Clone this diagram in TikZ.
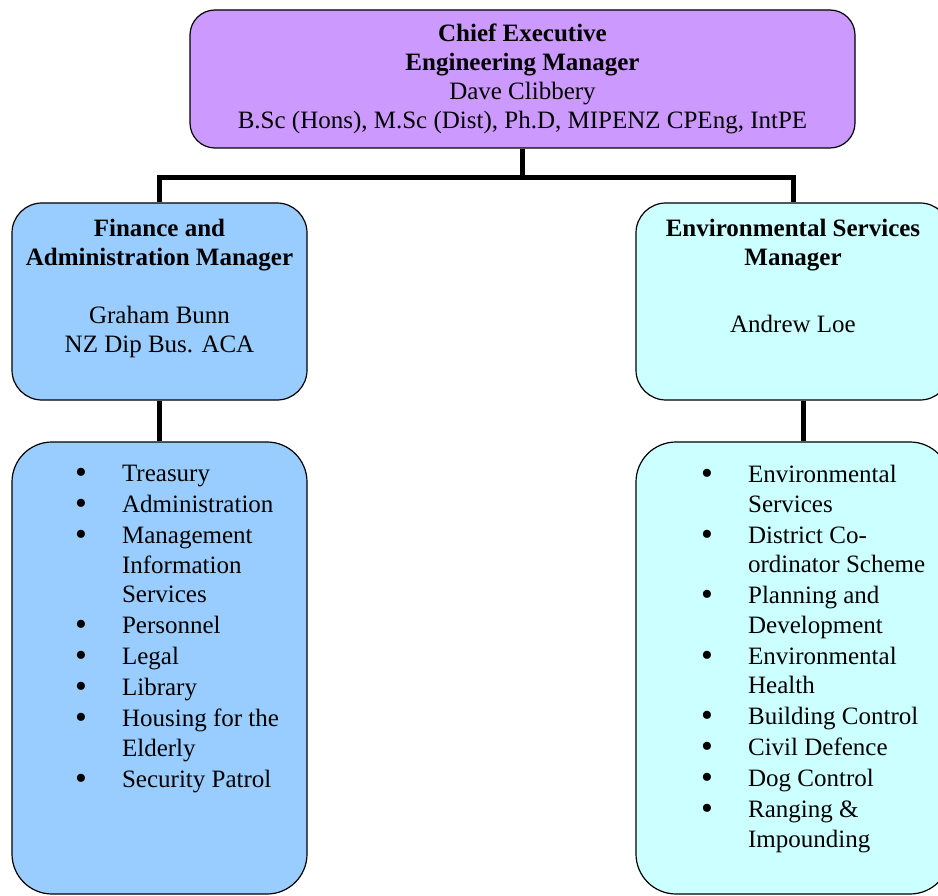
\documentclass[tikz,border=0pt]{standalone}
\usepackage{fontspec}
\setmainfont{Liberation Serif}
\usepackage{xcolor}
\usepackage{graphicx}
\usetikzlibrary{positioning}

\definecolor{chiefpurple}{HTML}{CC99FF}
\definecolor{finblue}{HTML}{99CCFF}
\definecolor{envcyan}{HTML}{CCFFFF}

\newcommand{\orgbullet}[1]{\makebox[47pt][l]{\smash{\raisebox{-2pt}{\scalebox{1.35}{\textbullet}}}}#1}
\newcommand{\orgcont}[1]{\hspace*{47pt}#1}

\tikzset{
  orgbox/.style={draw=black, line width=1.2pt, inner sep=0pt},
  link/.style={line width=5pt},
  boxtext/.style={align=center, inner sep=0pt, font=\fontsize{25}{29}\selectfont},
  listtext/.style={align=left, inner sep=0pt, font=\fontsize{25}{29.5}\selectfont},
}

\begin{document}
\begin{tikzpicture}[x=1pt, y=-1pt]
    \useasboundingbox (0,0) rectangle (938,896);

    % Chief executive
    \node[orgbox, fill=chiefpurple, rounded corners=25pt,
          minimum width=665pt, minimum height=138pt] (chief) at (522.5,79) {};
    \node[boxtext, below=14.5pt of chief.north] (chieftxt)
        {\textbf{Chief Executive}\\\textbf{Engineering Manager}\\Dave Clibbery\\
         B.Sc (Hons), M.Sc (Dist), Ph.D, MIPENZ CPEng, IntPE};

    % Managers
    \node[orgbox, fill=finblue, rounded corners=30pt,
          minimum width=295pt, minimum height=197pt] (finmgr) at (159.5,301.5) {};
    \node[boxtext, below=17pt of finmgr.north] (finmgrtxt)
        {\textbf{Finance and}\\\textbf{Administration Manager}\\[29pt]
         Graham Bunn\\NZ Dip Bus. ACA};

    \node[orgbox, fill=envcyan, rounded corners=30pt,
          minimum width=314pt, minimum height=197pt] (envmgr) at (793,301.5) {};
    \node[boxtext, below=17pt of envmgr.north] (envmgrtxt)
        {\textbf{Environmental Services}\\\textbf{Manager}\\[38pt]Andrew Loe};

    % Function lists
    \node[orgbox, fill=finblue, rounded corners=40pt,
          minimum width=295pt, minimum height=452pt] (finlist) at (159.5,668) {};
    \node[listtext, anchor=north west] (finitems)
        at ([xshift=63.5pt, yshift=-24pt]finlist.north west)
        {\orgbullet{Treasury}\\[1.5pt]
         \orgbullet{Administration}\\[1.5pt]
         \orgbullet{Management}\\\orgcont{Information}\\\orgcont{Services}\\[1.5pt]
         \orgbullet{Personnel}\\[1.5pt]
         \orgbullet{Legal}\\[1.5pt]
         \orgbullet{Library}\\[1.5pt]
         \orgbullet{Housing for the}\\\orgcont{Elderly}\\[1.5pt]
         \orgbullet{Security Patrol}};

    \node[orgbox, fill=envcyan, rounded corners=40pt,
          minimum width=314pt, minimum height=452pt] (envlist) at (793,668) {};
    \node[listtext, anchor=north west] (envitems)
        at ([xshift=65.5pt, yshift=-24pt]envlist.north west)
        {\orgbullet{Environmental}\\\orgcont{Services}\\[1.5pt]
         \orgbullet{District Co-}\\\orgcont{ordinator Scheme}\\[1.5pt]
         \orgbullet{Planning and}\\\orgcont{Development}\\[1.5pt]
         \orgbullet{Environmental}\\\orgcont{Health}\\[1.5pt]
         \orgbullet{Building Control}\\[1.5pt]
         \orgbullet{Civil Defence}\\[1.5pt]
         \orgbullet{Dog Control}\\[1.5pt]
         \orgbullet{Ranging \&}\\\orgcont{Impounding}};

    % Connectors
    \coordinate (bus) at (522.5,178);
    \draw[link] (chief.south) -- (bus);
    \draw[link] (finmgr.north) |- (bus) -| (envmgr.north);
    \draw[link] (finmgr.south) -- (finlist.north);
    \draw[link] ([xshift=10pt]envmgr.south) -- ([xshift=10pt]envlist.north);
\end{tikzpicture}
\end{document}
